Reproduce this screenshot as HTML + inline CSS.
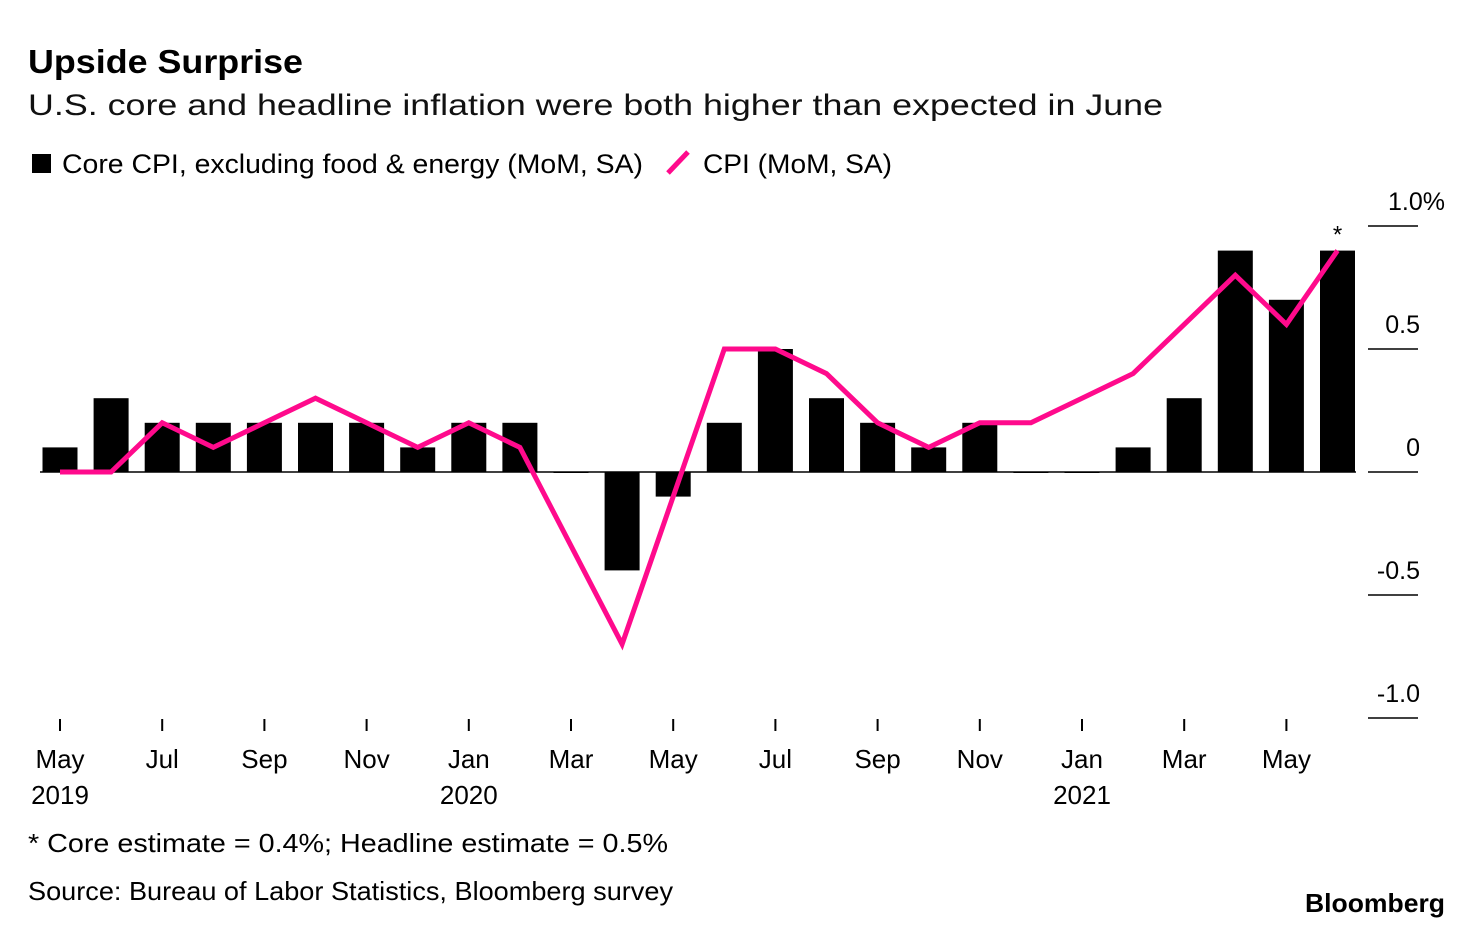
<!DOCTYPE html>
<html><head><meta charset="utf-8"><style>
body{margin:0;background:#fff;font-family:"Liberation Sans",sans-serif;}
svg text{font-family:"Liberation Sans",sans-serif;}
</style></head><body>
<svg width="1473" height="930">
<text x="28" y="73" font-size="33" font-weight="bold" textLength="275" lengthAdjust="spacingAndGlyphs">Upside Surprise</text>
<text x="28" y="115" font-size="30" fill="#111" textLength="1135" lengthAdjust="spacingAndGlyphs">U.S. core and headline inflation were both higher than expected in June</text>
<g>
<rect x="32" y="154" width="19" height="19" fill="#000"/>
<text x="62" y="173" font-size="27" textLength="581" lengthAdjust="spacingAndGlyphs">Core CPI, excluding food &amp; energy (MoM, SA)</text>
<line x1="668" y1="173" x2="688" y2="152" stroke="#ff0a8c" stroke-width="5"/>
<text x="703" y="173" font-size="27" textLength="189" lengthAdjust="spacingAndGlyphs">CPI (MoM, SA)</text>
</g>
<g id="plot"></g>
<text x="28" y="852" font-size="26" textLength="640" lengthAdjust="spacingAndGlyphs">* Core estimate = 0.4%; Headline estimate = 0.5%</text>
<text x="28" y="900" font-size="26" textLength="645" lengthAdjust="spacingAndGlyphs">Source: Bureau of Labor Statistics, Bloomberg survey</text>
<text x="1305" y="912" font-size="26" font-weight="bold" textLength="140" lengthAdjust="spacingAndGlyphs">Bloomberg</text>
</svg>
<script>
const months=["May","Jun","Jul","Aug","Sep","Oct","Nov","Dec","Jan","Feb","Mar","Apr","May","Jun","Jul","Aug","Sep","Oct","Nov","Dec","Jan","Feb","Mar","Apr","May","Jun"];
const coreValues=[0.1,0.3,0.2,0.2,0.2,0.2,0.2,0.1,0.2,0.2,0.0,-0.4,-0.1,0.2,0.5,0.3,0.2,0.1,0.2,0.0,0.0,0.1,0.3,0.9,0.7,0.9];
const cpiValues=[0.0,0.0,0.2,0.1,0.2,0.3,0.2,0.1,0.2,0.1,-0.3,-0.7,-0.1,0.5,0.5,0.4,0.2,0.1,0.2,0.2,0.3,0.4,0.6,0.8,0.6,0.9];
const yTicks=[1.0,0.5,0,-0.5,-1.0];
const yTickLabels=["1.0%","0.5","0","-0.5","-1.0"];
const xLabelIdx=[0,2,4,6,8,10,12,14,16,18,20,22,24];
const yearLabels={0:"2019",8:"2020",20:"2021"};
const NS="http://www.w3.org/2000/svg";
const g=document.getElementById('plot');
const x=i=>60+i*51.1;
const y=v=>472-v*246;
function mk(t,a){const e=document.createElementNS(NS,t);for(const k in a)e.setAttribute(k,a[k]);g.appendChild(e);return e;}
yTicks.forEach((v,i)=>{
 const l=mk('line',{x1:1368,x2:1418,y1:y(v),y2:y(v),stroke:'#000','stroke-width':1.5});
 
 
 const t=mk('text',{x:i==0?1445:1420,y:y(v)-16,'font-size':25,'text-anchor':'end'});
 t.textContent=yTickLabels[i];
 
 
});
coreValues.forEach((v,i)=>{
 const h=Math.abs(v*246);
 const r=mk('rect',{x:x(i)-17.5,y:v>=0?y(v):y(0),width:35,height:Math.max(h,1),fill:'#000'});
 
 
});
const base=mk('line',{x1:40,x2:1356,y1:y(0),y2:y(0),stroke:'#000','stroke-width':1.5});


const pl=mk('polyline',{points:cpiValues.map((v,i)=>x(i)+','+y(v)).join(' '),fill:'none',stroke:'#ff0a8c','stroke-width':5,'stroke-linejoin':'miter'});


const st=mk('text',{x:x(25),y:y(0.9)-8,'font-size':24,'text-anchor':'middle'});
st.textContent='*';


xLabelIdx.forEach(i=>{
 const tk=mk('line',{x1:x(i),x2:x(i),y1:719,y2:731,stroke:'#000','stroke-width':2});
 
 
 const t=mk('text',{x:x(i),y:768,'font-size':26,'text-anchor':'middle'});
 t.textContent=months[i];
 
 
 if(yearLabels[i]){
  const yt=mk('text',{x:x(i),y:804,'font-size':26,'text-anchor':'middle'});
  yt.textContent=yearLabels[i];
  
  
 }
});
</script>
</body></html>
